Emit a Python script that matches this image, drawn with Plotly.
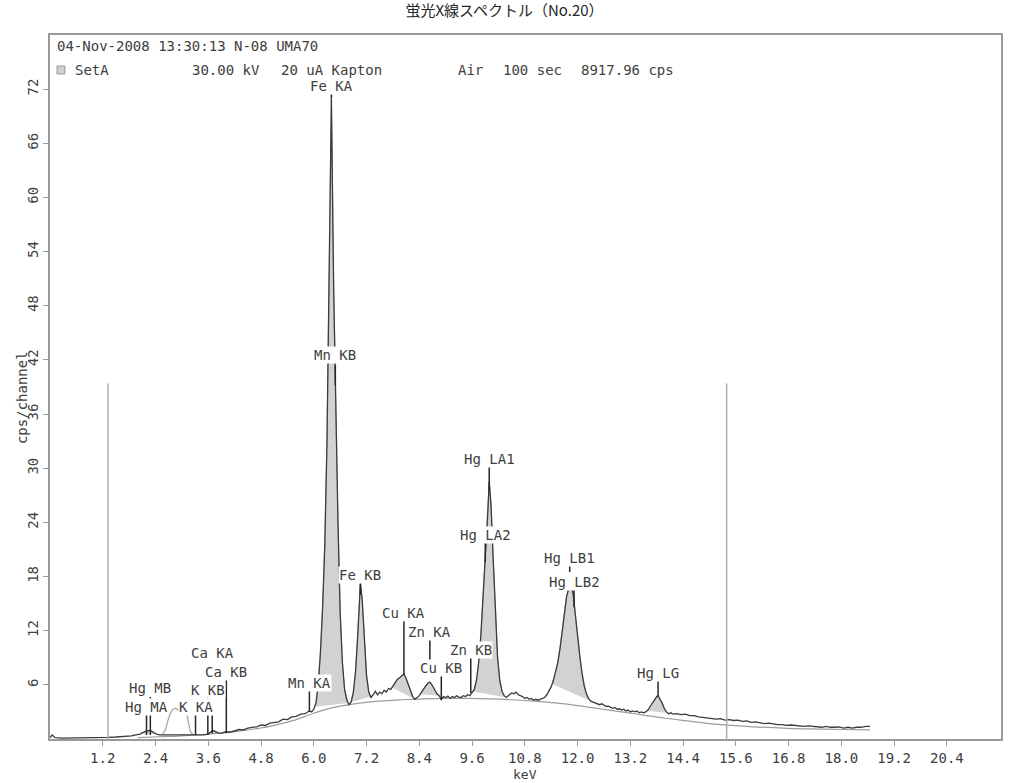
import numpy as np
import plotly.graph_objects as go

# ---- spectrum (keV, cps/channel) ----
energy_keV = [
    0.00, 0.05, 0.08, 0.12, 0.3, 0.5, 0.7, 0.9, 1.1, 1.3, 1.5, 1.7, 1.85, 1.95,
    2.05, 2.12, 2.2, 2.28, 2.35, 2.42, 2.5, 2.6, 2.7, 2.8, 2.9, 3.0, 3.1, 3.2,
    3.3, 3.4, 3.5, 3.6, 3.65, 3.7, 3.75, 3.8, 3.85, 3.9, 4.0, 4.1, 4.2, 4.3,
    4.4, 4.5, 4.6, 4.7, 4.8, 4.9, 5.0, 5.1, 5.2, 5.3, 5.4, 5.5, 5.6, 5.7, 5.8,
    5.9, 5.95, 6.0, 6.05, 6.10, 6.15, 6.20, 6.25, 6.30, 6.35, 6.40, 6.45, 6.49,
    6.55, 6.60, 6.65, 6.70, 6.75, 6.80, 6.85, 6.90, 6.95, 7.00, 7.03, 7.06,
    7.10, 7.15, 7.20, 7.25, 7.30, 7.35, 7.40, 7.45, 7.50, 7.55, 7.60, 7.65,
    7.70, 7.75, 7.80, 7.85, 7.90, 7.95, 8.00, 8.05, 8.10, 8.15, 8.20, 8.25,
    8.30, 8.35, 8.40, 8.45, 8.50, 8.55, 8.60, 8.64, 8.70, 8.75, 8.80, 8.85,
    8.90, 8.95, 9.00, 9.05, 9.10, 9.15, 9.20, 9.25, 9.30, 9.35, 9.40, 9.45,
    9.50, 9.55, 9.60, 9.65, 9.70, 9.75, 9.80, 9.85, 9.90, 9.95, 9.99, 10.03,
    10.08, 10.13, 10.18, 10.23, 10.28, 10.33, 10.38, 10.45, 10.50, 10.55,
    10.60, 10.65, 10.70, 10.75, 10.80, 10.85, 10.90, 10.95, 11.00, 11.05,
    11.10, 11.15, 11.20, 11.25, 11.30, 11.35, 11.40, 11.45, 11.50, 11.55,
    11.60, 11.65, 11.70, 11.75, 11.80, 11.85, 11.90, 11.92, 11.95, 12.00,
    12.05, 12.10, 12.15, 12.20, 12.25, 12.30, 12.35, 12.40, 12.45, 12.50,
    12.55, 12.60, 12.65, 12.70, 12.75, 12.80, 12.85, 12.90, 12.95, 13.00,
    13.05, 13.10, 13.15, 13.20, 13.25, 13.30, 13.35, 13.40, 13.45, 13.50,
    13.55, 13.60, 13.65, 13.70, 13.75, 13.80, 13.83, 13.87, 13.92, 13.97,
    14.02, 14.07, 14.12, 14.17, 14.25, 14.35, 14.45, 14.55, 14.65, 14.75,
    14.85, 14.95, 15.05, 15.15, 15.25, 15.35, 15.45, 15.55, 15.65, 15.75,
    15.85, 15.95, 16.05, 16.15, 16.25, 16.35, 16.45, 16.55, 16.65, 16.75,
    16.85, 16.95, 17.05, 17.15, 17.25, 17.35, 17.45, 17.55, 17.65, 17.75,
    17.85, 17.95, 18.05, 18.15, 18.25, 18.35, 18.45, 18.55, 18.65,
]
counts_cps = [
    0.15, 0.45, 0.3, 0.15, 0.1, 0.1, 0.12, 0.12, 0.15, 0.18, 0.22, 0.28, 0.35, 0.45,
    0.55, 0.75, 0.9, 0.95, 0.75, 0.55, 0.45, 0.45, 0.42, 0.45, 0.4, 0.42, 0.45, 0.4,
    0.42, 0.4, 0.45, 0.55, 0.75, 0.95, 0.85, 0.7, 0.62, 0.65, 0.8, 0.75, 0.9, 1.05,
    1.0, 1.2, 1.3, 1.35, 1.55, 1.5, 1.75, 1.85, 1.9, 2.2, 2.15, 2.45, 2.5, 2.75, 2.8,
    3.1, 3.0, 3.3, 4.0, 6.0, 9.5, 14.5, 21.5, 33.0, 49.5, 71.0, 50.5, 38.5,
    24.0, 14.0, 8.5, 5.5, 4.3, 3.8, 4.1, 5.2, 7.5, 11.5, 15.0, 17.2,
    15.5, 11.0, 7.0, 5.2, 4.6, 4.9, 5.3, 4.9, 5.2, 5.0, 5.4, 5.2,
    5.6, 5.5, 5.9, 6.3, 6.6, 6.8, 7.0, 7.2, 6.7, 6.0, 5.2, 4.7,
    4.4, 4.6, 4.8, 5.2, 5.6, 5.9, 6.2, 6.3, 5.9, 5.4, 5.0, 4.8,
    4.4, 4.7, 4.6, 4.75, 4.5, 4.7, 4.6, 4.8, 4.65, 4.6, 4.8, 4.7,
    4.9, 4.8, 5.1, 5.5, 6.5, 8.5, 11.5, 15.5, 20.0, 24.5, 28.5, 26.0,
    20.0, 13.5, 9.0, 6.5, 5.3, 4.8, 4.6, 4.9, 5.1, 5.0,
    5.2, 4.9, 4.8, 4.7, 4.5, 4.6, 4.4, 4.5, 4.3, 4.4,
    4.3, 4.4, 4.5, 4.6, 4.9, 5.3, 5.8, 6.5, 7.4, 8.5,
    10.0, 12.0, 14.0, 15.8, 16.7, 17.0, 16.0, 15.0, 13.8, 11.5,
    9.2, 7.3, 5.9, 5.0, 4.5, 4.2, 4.1, 4.0, 3.9, 3.8,
    3.9, 3.7, 3.6, 3.65, 3.5, 3.4, 3.5, 3.3, 3.35, 3.2,
    3.3, 3.1, 3.2, 3.0, 3.1, 3.0, 3.1, 2.9, 3.0, 2.9,
    3.0, 3.2, 3.6, 4.0, 4.4, 4.7, 4.8, 4.5, 4.0, 3.4,
    3.0, 2.8, 2.9, 2.75, 2.8, 2.7, 2.75, 2.6, 2.6, 2.45,
    2.4, 2.35, 2.3, 2.2, 2.25, 2.1, 2.15, 2.05, 2.1, 1.95,
    2.0, 1.85, 1.9, 1.8, 1.7, 1.75, 1.65, 1.6, 1.6, 1.5,
    1.55, 1.5, 1.5, 1.4, 1.45, 1.4, 1.35, 1.3, 1.4, 1.3,
    1.3, 1.35, 1.2, 1.3, 1.2, 1.3, 1.3, 1.4, 1.4,
]

# ---- Ar K hump (air path) ----
ar_keV = [2.55, 2.62, 2.68, 2.74, 2.80, 2.86, 2.92, 2.98, 3.04, 3.10, 3.15, 3.20, 3.26]
ar_cps = [0.45, 1.0, 2.0, 2.9, 3.3, 3.4, 3.2, 3.35, 3.45, 3.0, 1.8, 0.8, 0.45]

# ---- continuum background ----
bg_keV = [2.0, 2.5, 3.0, 3.5, 4.0, 4.5, 5.0, 5.5, 6.0, 6.5, 7.0, 7.5, 8.0, 8.5,
          9.0, 9.5, 10.0, 10.5, 11.0, 11.5, 12.0, 12.5, 13.0, 13.5, 14.0, 14.5,
          15.0, 15.5, 16.0, 16.5, 17.0, 17.5, 18.0, 18.65]
bg_cps = [0.15, 0.25, 0.35, 0.5, 0.7, 1.0, 1.4, 2.0, 2.85, 3.55, 3.95, 4.2, 4.35, 4.45,
          4.5, 4.5, 4.45, 4.35, 4.2, 4.0, 3.7, 3.35, 3.0, 2.65, 2.3, 2.0,
          1.7, 1.5, 1.35, 1.25, 1.15, 1.1, 1.05, 1.0]

# ---- integration windows of the fitted peaks (keV) ----
window_lo = [2.05, 3.60, 6.02, 6.85, 7.78, 8.42, 9.62, 11.42, 13.58]
window_hi = [2.42, 3.85, 6.78, 7.32, 8.30, 8.85, 10.38, 12.32, 14.10]

# ---- ROI limits ----
roi_keV = [1.32, 15.39]
roi_top = 39.4

# ---- line identification ----
line_names = ["Hg MA", "Hg MB", "K KA", "K KB", "Ca KA", "Ca KB", "Mn KA", "Fe KA",
              "Mn KB", "Fe KB", "Cu KA", "Zn KA", "Cu KB", "Zn KB", "Hg LA2", "Hg LA1",
              "Hg LB1", "Hg LB2", "Hg LG"]
line_keV = [2.195, 2.282, 3.31, 3.59, 3.69, 4.01, 5.90, 6.40, 6.49, 7.06, 8.05, 8.64,
            8.90, 9.57, 9.90, 9.99, 11.82, 11.92, 13.83]
label_cps = [3.55, 5.65, 3.5, 5.4, 9.5, 7.4, 6.2, 72.4, 42.5, 18.2, 14.0, 11.85,
             7.9, 9.85, 22.6, 31.0, 20.0, 17.4, 7.3]
mark_top = [2.9, 4.65, 2.95, 4.7, 3.0, 6.75, 5.4, 71.8, 41.4, 17.5, 13.2, 11.2,
            7.3, 9.1, 21.8, 30.2, 19.5, 16.8, 6.6]
mark_bottom = [0.45, 0.45, 0.45, 0.5, 0.65, 0.65, 3.0, 71.0, 39.2, 16.0, 7.1, 8.75,
               4.3, 5.1, 19.6, 27.6, 18.5, 14.6, 4.65]

# ---- axes ----
x_ticks = [1.2, 2.4, 3.6, 4.8, 6.0, 7.2, 8.4, 9.6, 10.8, 12.0, 13.2, 14.4, 15.6,
           16.8, 18.0, 19.2, 20.4]
x_tick_text = ["1.2", "2.4", "3.6", "4.8", "6.0", "7.2", "8.4", "9.6", "10.8", "12.0",
               "13.2", "14.4", "15.6", "16.8", "18.0", "19.2", "20.4"]
y_ticks = [6, 12, 18, 24, 30, 36, 42, 48, 54, 60, 66, 72]

MONO = "DejaVu Sans Mono"
INK = "#404040"

E = np.array(energy_keV)
C = np.array(counts_cps)

fig = go.Figure()

# shaded peak areas above a straight baseline across each window
for lo, hi in zip(window_lo, window_hi):
    inside = (E > lo) & (E < hi)
    xs = [lo] + list(E[inside]) + [hi]
    ys = [float(np.interp(lo, E, C))] + list(C[inside]) + [float(np.interp(hi, E, C))]
    fig.add_trace(go.Scatter(x=xs, y=ys, mode="lines", fill="toself",
                             fillcolor="#d2d2d2", line=dict(color="#999999", width=0.8),
                             hoverinfo="skip", showlegend=False))

fig.add_trace(go.Scatter(x=bg_keV, y=bg_cps, mode="lines",
                         line=dict(color="#9c9c9c", width=1.2, shape="spline"),
                         showlegend=False))
fig.add_trace(go.Scatter(x=ar_keV, y=ar_cps, mode="lines",
                         line=dict(color="#a8a8a8", width=1.3, shape="spline"),
                         showlegend=False))
fig.add_trace(go.Scatter(x=energy_keV, y=counts_cps, mode="lines",
                         line=dict(color="#3c3c3c", width=1.3), showlegend=False))

# ROI limit lines
rx, ry = [], []
for r in roi_keV:
    rx += [r, r, None]
    ry += [0, roi_top, None]
fig.add_trace(go.Scatter(x=rx, y=ry, mode="lines",
                         line=dict(color="#b0b0b0", width=1.5), showlegend=False))

# line markers
mx, my = [], []
for e, t, b in zip(line_keV, mark_top, mark_bottom):
    mx += [e, e, None]
    my += [b, t, None]
fig.add_trace(go.Scatter(x=mx, y=my, mode="lines",
                         line=dict(color="#262626", width=1.5), showlegend=False))

annotations = []
for name, e, yl in zip(line_names, line_keV, label_cps):
    annotations.append(dict(x=e, y=yl, xref="x", yref="y", text=name, showarrow=False,
                            xanchor="center", yanchor="middle", bgcolor="white",
                            borderpad=0, font=dict(family=MONO, size=14, color=INK)))

# header lines inside the frame (paper coordinates of a 953 x 704 px plot area)
def px(xp):
    return (xp - 50) / 953.0

def py(yp):
    return (739 - yp) / 704.0

header = [
    ("04-Nov-2008 13:30:13 N-08 UMA70", 55, 46),
    ("SetA", 73, 70),
    ("30.00 kV", 190, 70),
    ("20 uA Kapton", 279, 70),
    ("Air", 457, 70),
    ("100 sec", 502, 70),
    ("8917.96 cps", 580, 70),
]
for txt, xp, yp in header:
    annotations.append(dict(x=px(xp), y=py(yp), xref="paper", yref="paper", text=txt,
                            showarrow=False, xanchor="left", yanchor="middle",
                            font=dict(family=MONO, size=14, color=INK)))

annotations.append(dict(x=px(22), y=py(398), xref="paper", yref="paper", text="cps/channel",
                        textangle=-90, showarrow=False, xanchor="center", yanchor="middle",
                        font=dict(family=MONO, size=14, color=INK)))
annotations.append(dict(x=px(526), y=py(775), xref="paper", yref="paper", text="keV",
                        showarrow=False, xanchor="center", yanchor="middle",
                        font=dict(family=MONO, size=13, color=INK)))

shapes = [dict(type="rect", xref="paper", yref="paper", x0=px(57), x1=px(65),
               y0=py(74), y1=py(66), fillcolor="#d0d0d0", line=dict(color="#9a9a9a", width=1))]

fig.update_layout(
    width=1009, height=783,
    margin=dict(l=50, r=6, t=35, b=44),
    paper_bgcolor="white", plot_bgcolor="white",
    title=dict(text="蛍光X線スペクトル（No.20）", x=0.5, xref="container", xanchor="center",
               y=1 - 11 / 783, yref="container", yanchor="middle",
               font=dict(family="Noto Sans CJK JP", size=15, color="#262626")),
    annotations=annotations, shapes=shapes,
    showlegend=False,
)
fig.update_xaxes(range=[0, 21.63], tickvals=x_ticks, ticktext=x_tick_text,
                 showgrid=False, zeroline=False, showline=True, mirror=True,
                 linecolor="#9a9a9a", linewidth=1.5, ticks="outside", ticklen=5,
                 tickcolor="#9a9a9a", tickfont=dict(family=MONO, size=14, color=INK))
fig.update_yaxes(range=[0, 78], tickvals=y_ticks, showgrid=False, zeroline=False,
                 showline=True, mirror=True, linecolor="#9a9a9a", linewidth=1.5,
                 ticks="outside", ticklen=5, tickcolor="#9a9a9a", tickangle=-90,
                 tickfont=dict(family=MONO, size=14, color=INK))

fig.write_html("out.html")
